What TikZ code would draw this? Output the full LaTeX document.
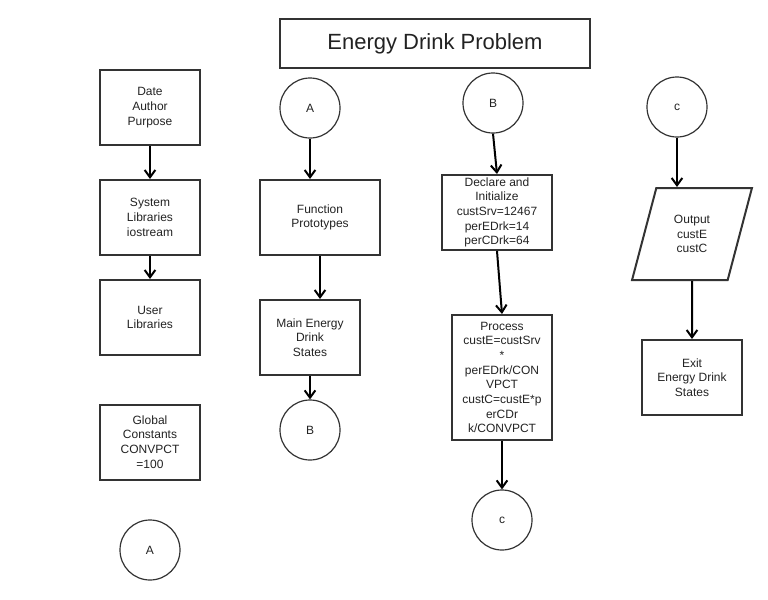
\documentclass[tikz,border=0pt]{standalone}
\usepackage{fontspec}
\setmainfont{Liberation Sans}
\RequirePackage{xcolor}
\definecolor{boxgray}{RGB}{51,51,51}
\definecolor{textgray}{RGB}{34,34,34}
\usetikzlibrary{calc}
\usetikzlibrary{positioning}
\usetikzlibrary{shapes.geometric}
\usetikzlibrary{arrows.meta}

\begin{document}
\begin{tikzpicture}[x=0.75pt, y=-0.75pt,
    block/.style={draw=boxgray, line width=1.5pt, align=center, text=textgray,
      font=\fontsize{9}{11}\selectfont, minimum width=75pt, minimum height=56.25pt, inner sep=1pt},
    conn/.style={circle, draw=boxgray, line width=0.9pt, minimum size=45pt, text=textgray,
      font=\fontsize{9}{11}\selectfont},
    flow/.style={-{Straight Barb[length=5.5pt, width=8pt]}, line width=1.5pt}]

  \useasboundingbox (0,0) rectangle (768,600);

  \node [block, minimum width=232.5pt, minimum height=36.75pt, font=\fontsize{16.5}{20}\selectfont] at (435,43.5) (title) {Energy Drink Problem};

  % left column
  \node [block] at (150,107.5) (header) {Date\\Author\\Purpose};
  \node [block] at (150,217.5) (syslib) {System\\Libraries\\iostream};
  \node [block] at (150,317.5) (userlib) {User\\Libraries};
  \node [block] at (150,442) (global) {Global\\Constants\\CONVPCT\\=100};
  \node [conn] at (150,550) (conA) {A};

  \draw [flow] (header) -- (syslib);
  \draw [flow] (syslib) -- (userlib);

  % function prototypes and main
  \node [conn] at (310,108) (startA) {A};
  \node [block, minimum width=90pt] at (320,217.5) (proto) {Function\\Prototypes};
  \node [block] at (310,337.5) (mainfn) {Main Energy\\Drink\\States};
  \node [conn] at (310,430) (conB) {B};

  \draw [flow] (startA.south) -- (startA.south |- proto.north);
  \draw [flow] (proto.south) -- (proto.south |- mainfn.north);
  \draw [flow] (mainfn.south) -- (conB.north);

  % declare and process
  \node [conn] at (493,103) (startB) {B};
  \node [block, minimum width=82.5pt] at (497,212.5) (declare) {Declare and\\Initialize\\custSrv=12467\\perEDrk=14\\perCDrk=64};
  \node [block, minimum height=93.75pt] at (502,377.5) (process) {Process\\custE=custSrv\\*\\perEDrk/CON\\VPCT\\custC=custE*p\\erCDr\\k/CONVPCT};
  \node [conn] at (502,520) (conC) {c};

  \draw [flow] (startB.south) -- (declare.north);
  \draw [flow] (declare.south) -- (process.north);
  \draw [flow] (process.south) -- (conC.north);

  % output and exit
  \node [conn] at (677,107) (startC) {c};
  \node [block, trapezium, trapezium left angle=72, trapezium right angle=108, trapezium stretches=true,
    minimum width=90pt, minimum height=69pt] at (692,234) (output) {Output\\custE\\custC};
  \node [block] at (692,377.5) (exit) {Exit\\Energy Drink\\States};

  \draw [flow] (startC.south) -- (startC.south |- output.north);
  \draw [flow] (output.south) -- (exit.north);

\end{tikzpicture}
\end{document}
